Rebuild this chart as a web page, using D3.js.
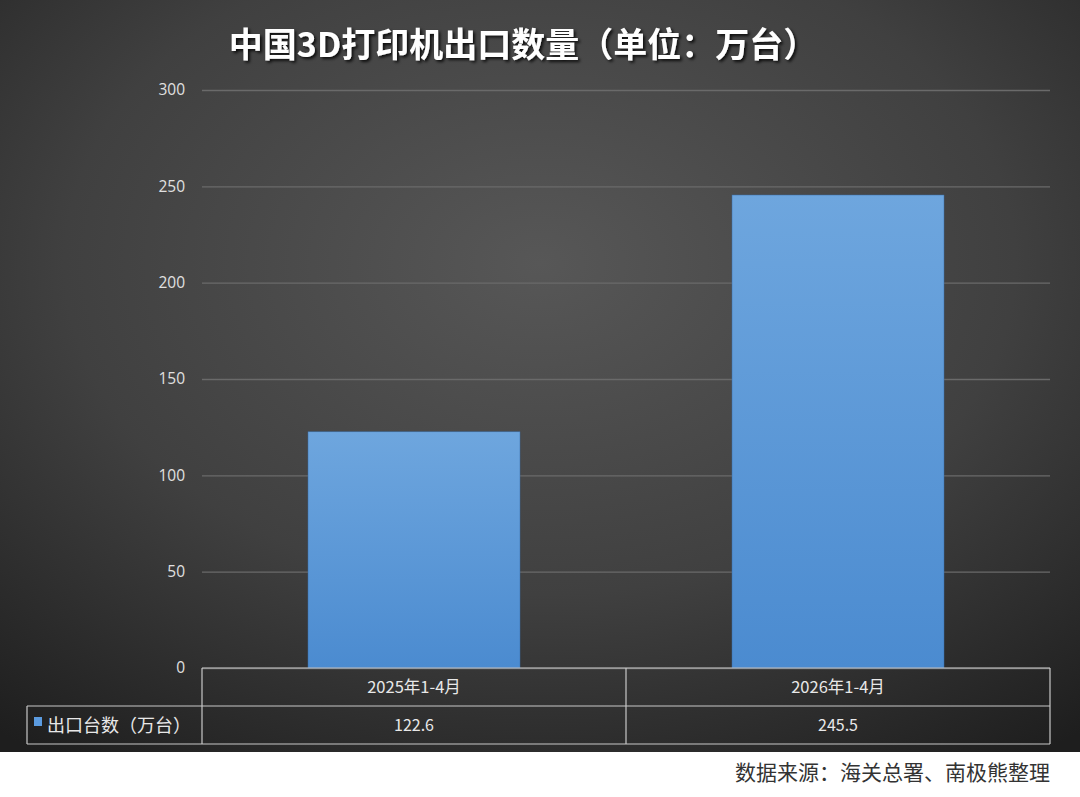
<!DOCTYPE html>
<html><head><meta charset="utf-8">
<script src="https://cdn.jsdelivr.net/npm/d3@7"></script>
<style>body{margin:0;background:#fff;}svg{display:block;}</style>
</head><body>
<svg id="c" width="1080" height="797"></svg>
<script>
const categories = ["2025年1-4月", "2026年1-4月"];
const seriesName = "出口台数（万台）";
const values = [122.6, 245.5];
const valueLabels = ["122.6", "245.5"];
const yTicks = [0, 50, 100, 150, 200, 250, 300];
const title = "中国3D打印机出口数量（单位：万台）";
const source = "数据来源：海关总署、南极熊整理";

(function(){
const svg = d3.select("#c");
const W = 1080, H = 797;
const defs = svg.append("defs");
const bg = defs.append("radialGradient").attr("id","bg").attr("cx","50%").attr("cy","35%").attr("r","80%");
bg.append("stop").attr("offset","0%").attr("stop-color","#575757");
bg.append("stop").attr("offset","55%").attr("stop-color","#404040");
bg.append("stop").attr("offset","100%").attr("stop-color","#1e1e1e");
const bar = defs.append("linearGradient").attr("id","bar").attr("x1",0).attr("y1",0).attr("x2",0).attr("y2",1);
bar.append("stop").attr("offset","0%").attr("stop-color","#6ea6de");
bar.append("stop").attr("offset","100%").attr("stop-color","#4b8bd0");
const f = defs.append("filter").attr("id","sh").attr("x","-10%").attr("y","-20%").attr("width","120%").attr("height","150%");
f.append("feDropShadow").attr("dx",2).attr("dy",2).attr("stdDeviation",1.5).attr("flood-color","#000").attr("flood-opacity",0.8);

svg.append("rect").attr("x",0).attr("y",0).attr("width",W).attr("height",752).attr("fill","url(#bg)");

const pLeft = 202, pRight = 1050, pTop = 90, pBottom = 668;
const x = d3.scaleBand().domain(categories).range([pLeft, pRight]).paddingInner(0).paddingOuter(0);
const y = d3.scaleLinear().domain([0, 300]).range([pBottom, pTop]);

const yAxis = d3.axisLeft(y).tickValues(yTicks).tickSize(-(pRight-pLeft)).tickPadding(17);
const ga = svg.append("g").attr("transform",`translate(${pLeft},0)`).call(yAxis);
ga.select(".domain").remove();
ga.selectAll(".tick line").attr("stroke","#6a6a6a").attr("stroke-width",1.3);
ga.selectAll(".tick text").attr("fill","#e0e0e0").attr("font-size",15.5).attr("font-family","'Open Sans', sans-serif");

svg.append("g").selectAll("rect").data(values).join("rect")
  .attr("x",(d,i)=>x(categories[i]) + x.bandwidth()*0.25)
  .attr("width",x.bandwidth()*0.5)
  .attr("y",d=>y(d))
  .attr("height",d=>pBottom - y(d))
  .attr("fill","url(#bar)")
  .attr("stroke","#3a6ea8").attr("stroke-width",0.5);

const rowH = 38, tLeft = 27;
const tg = svg.append("g").attr("stroke","#c8c8c8").attr("stroke-width",1.2).attr("fill","none");
tg.append("line").attr("x1",pLeft).attr("x2",pRight).attr("y1",pBottom).attr("y2",pBottom);
tg.append("line").attr("x1",tLeft).attr("x2",pRight).attr("y1",pBottom+rowH).attr("y2",pBottom+rowH);
tg.append("line").attr("x1",tLeft).attr("x2",pRight).attr("y1",pBottom+2*rowH).attr("y2",pBottom+2*rowH);
tg.append("line").attr("x1",tLeft).attr("x2",tLeft).attr("y1",pBottom+rowH).attr("y2",pBottom+2*rowH);
[pLeft, x(categories[1]), pRight].forEach(xx=>{
  tg.append("line").attr("x1",xx).attr("x2",xx).attr("y1",pBottom).attr("y2",pBottom+2*rowH);
});
const tf = "'Noto Sans CJK SC', sans-serif";
svg.append("g").selectAll("text").data(categories).join("text")
  .attr("x",d=>x(d)+x.bandwidth()/2).attr("y",pBottom+rowH/2+6)
  .attr("text-anchor","middle").attr("fill","#e8e8e8").attr("font-size",16.5).attr("font-family",tf)
  .text(d=>d);
svg.append("g").selectAll("text").data(valueLabels).join("text")
  .attr("x",(d,i)=>x(categories[i])+x.bandwidth()/2).attr("y",pBottom+rowH*1.5+6)
  .attr("text-anchor","middle").attr("fill","#e8e8e8").attr("font-size",16).attr("font-family",tf)
  .text(d=>d);
svg.append("rect").attr("x",34).attr("y",pBottom+rowH+11).attr("width",8).attr("height",9).attr("fill","#5b9be0");
svg.append("text").attr("x",47).attr("y",pBottom+rowH*1.5+6.5).attr("fill","#e8e8e8").attr("font-size",18)
  .attr("font-family",tf).text(seriesName);

svg.append("text").attr("x",523).attr("y",57).attr("text-anchor","middle").attr("fill","#fff")
  .attr("font-size",34).attr("font-weight","bold").attr("font-family",tf).attr("filter","url(#sh)").text(title);

svg.append("text").attr("x",1050).attr("y",780).attr("text-anchor","end").attr("fill","#333")
  .attr("font-size",21).attr("font-family",tf).text(source);
})();
</script>
</body></html>
